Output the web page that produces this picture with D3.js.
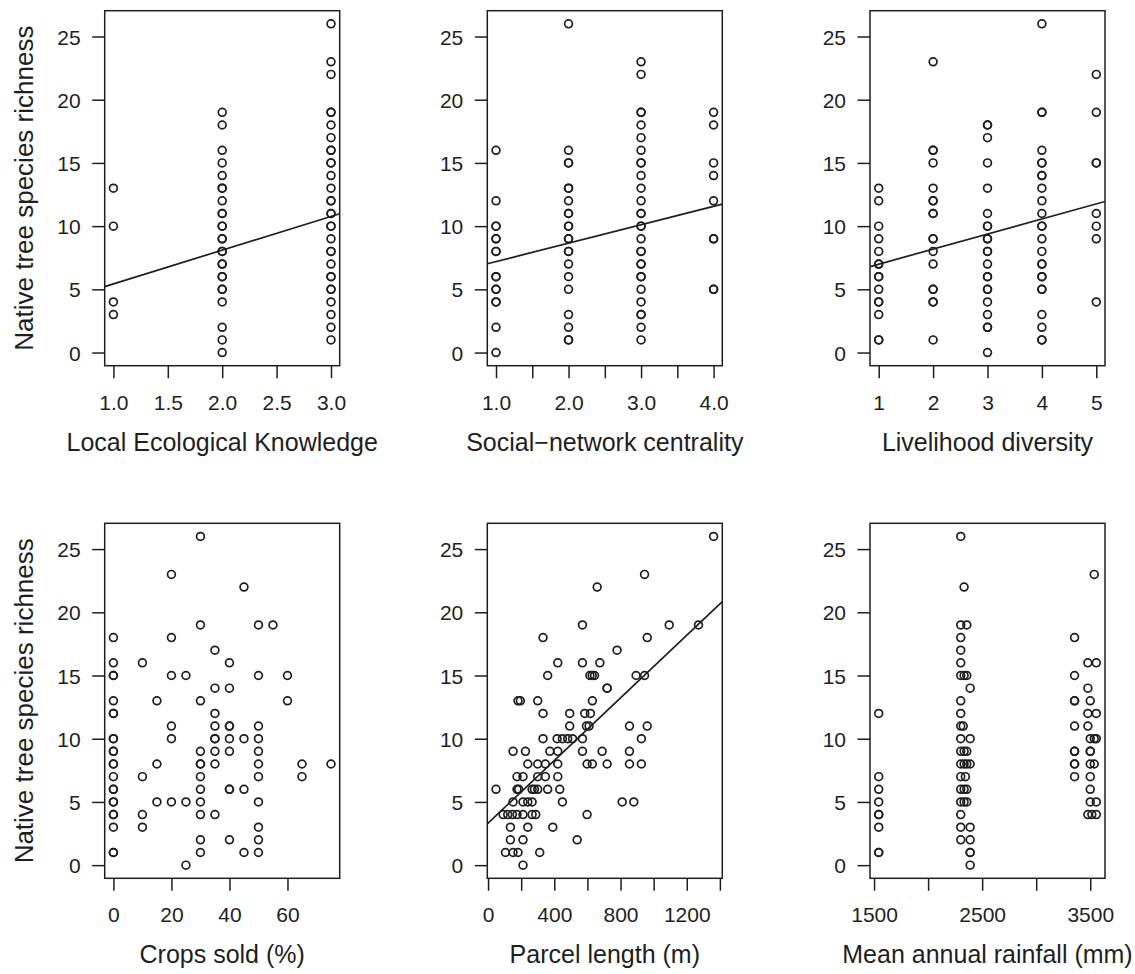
<!DOCTYPE html>
<html lang="en">
<meta charset="utf-8">
<style>
  body { margin: 0; background: #fff; font-family: 'Liberation Sans', Arial, sans-serif; }
  .box { fill: none; stroke: #1e1e1e; stroke-width: 1.5; }
  .pt { fill: none; stroke: #1e1e1e; stroke-width: 1.7; }
  .fit { stroke: #1e1e1e; stroke-width: 1.7; }
  .tick line { stroke: #1e1e1e; stroke-width: 1.5; }
  .tick text { fill: #1e1e1e; font-size: 21px; font-family: 'Liberation Sans', Arial, sans-serif; }
  .lab { fill: #1e1e1e; font-size: 25px; }
  .ylab { font-size: 26px; }
</style>
<body>
<div id="chart"></div>
<script src="https://cdn.jsdelivr.net/npm/d3@7/dist/d3.min.js"></script>
<script>

// ---- data ----
var yTitle = "Native tree species richness";
var yTicks = [0, 5, 10, 15, 20, 25];

// Local Ecological Knowledge: richness values at each level
var lekLevels = [1, 2, 3];
var lekY = [
  [13, 10, 4, 3],
  [19, 18, 16, 15, 14, 13, 13, 12, 11, 11, 10, 10, 9, 9, 8, 8, 7, 7, 6, 6, 5, 5, 4, 2, 1, 0],
  [26, 23, 22, 19, 19, 18, 17, 16, 16, 15, 15, 14, 13, 12, 12, 11, 11, 10, 10, 9, 8, 8, 7, 6, 6, 5, 5, 4, 3, 2, 1]
];

// Social-network centrality
var sncLevels = [1, 2, 3, 4];
var sncY = [
  [16, 12, 10, 10, 9, 9, 8, 8, 6, 6, 5, 5, 4, 4, 2, 0],
  [26, 16, 15, 15, 13, 13, 12, 11, 11, 10, 10, 9, 9, 8, 8, 7, 6, 5, 3, 2, 1, 1],
  [23, 22, 19, 19, 18, 17, 16, 15, 15, 14, 13, 12, 11, 11, 10, 10, 9, 8, 8, 7, 7, 6, 6, 5, 4, 3, 3, 2, 1],
  [19, 18, 15, 14, 12, 9, 9, 5, 5]
];

// Livelihood diversity
var ldLevels = [1, 2, 3, 4, 5];
var ldY = [
  [13, 12, 10, 9, 8, 7, 7, 6, 6, 5, 4, 4, 3, 1, 1],
  [23, 16, 16, 15, 13, 12, 12, 11, 11, 9, 9, 8, 7, 5, 5, 4, 4, 1],
  [18, 18, 17, 15, 13, 11, 10, 10, 9, 9, 8, 8, 7, 6, 6, 5, 5, 4, 3, 2, 2, 0],
  [26, 19, 19, 16, 15, 15, 14, 14, 13, 12, 11, 10, 10, 9, 8, 7, 7, 6, 6, 5, 5, 3, 2, 1, 1],
  [22, 19, 15, 15, 11, 10, 9, 4]
];

// Crops sold (%) vs richness
var cropPts = [[30,26],[20,23],[45,22],[30,19],[50,19],[55,19],[0,18],[20,18],[35,17],[0,16],[10,16],[40,16],
  [0,15],[0,15],[20,15],[25,15],[50,15],[60,15],[35,14],[40,14],[0,13],[15,13],[30,13],[60,13],[0,12],[0,12],[35,12],
  [20,11],[35,11],[40,11],[40,11],[50,11],[0,10],[0,10],[20,10],[35,10],[35,10],[40,10],[45,10],[50,10],
  [0,9],[0,9],[30,9],[35,9],[40,9],[50,9],[0,8],[0,8],[15,8],[30,8],[30,8],[35,8],[50,8],[65,8],[75,8],
  [0,7],[10,7],[30,7],[50,7],[65,7],[0,6],[0,6],[30,6],[40,6],[40,6],[45,6],[0,5],[0,5],[15,5],[20,5],[25,5],[30,5],[50,5],
  [0,4],[0,4],[10,4],[30,4],[35,4],[0,3],[10,3],[50,3],[30,2],[40,2],[50,2],[0,1],[0,1],[30,1],[45,1],[50,1],[25,0]];

// Parcel length (m) vs richness
var parcelPts = [[1362,26],[945,23],[659,22],[570,19],[1094,19],[1271,19],[332,18],[961,18],[779,17],[421,16],[570,16],[675,16],
  [360,15],[615,15],[629,15],[643,15],[894,15],[945,15],[719,14],[719,14],[181,13],[195,13],[300,13],[630,13],
  [332,12],[493,12],[584,12],[618,12],[493,11],[594,11],[610,11],[854,11],[961,11],
  [332,10],[417,10],[449,10],[481,10],[510,10],[570,10],[926,10],[151,9],[226,9],[373,9],[421,9],[570,9],[689,9],[854,9],
  [240,8],[300,8],[346,8],[421,8],[598,8],[630,8],[719,8],[854,8],[926,8],[175,7],[211,7],[300,7],[346,7],[421,7],
  [175,6],[185,6],[266,6],[280,6],[300,6],[360,6],[433,6],[48,6],[151,5],[211,5],[240,5],[266,5],[449,5],[810,5],[880,5],
  [91,4],[119,4],[147,4],[175,4],[211,4],[266,4],[288,4],[598,4],[135,3],[240,3],[391,3],[135,2],[211,2],[538,2],
  [105,1],[151,1],[181,1],[312,1],[211,0]];

// Mean annual rainfall (mm) vs richness
var rainPts = [[1543,12],[1543,7],[1543,6],[1543,5],[1543,4],[1543,4],[1543,3],[1543,1],[1543,1],
  [2302,26],[2333,22],[2302,19],[2358,19],[2302,18],[2302,17],[2302,16],[2302,15],[2333,15],[2358,15],[2389,14],
  [2302,13],[2302,12],[2302,11],[2325,11],[2302,10],[2389,10],[2302,9],[2333,9],[2358,9],
  [2302,8],[2333,8],[2358,8],[2389,8],[2302,7],[2345,7],[2302,6],[2333,6],[2358,6],[2302,5],[2333,5],[2358,5],
  [2302,4],[2302,3],[2389,3],[2302,2],[2389,2],[2389,1],[2389,1],[2389,0],
  [3355,18],[3355,15],[3355,13],[3355,13],[3355,11],[3355,9],[3355,9],[3355,8],[3355,8],[3355,7],
  [3537,23],[3478,16],[3556,16],[3478,14],[3500,13],[3478,12],[3556,12],[3478,11],[3500,10],[3537,10],[3556,10],
  [3500,9],[3500,9],[3500,8],[3537,8],[3500,7],[3500,6],[3500,5],[3556,5],[3478,4],[3515,4],[3556,4]];

// x axis titles, ticks and tick labels
var xTitles = ["Local Ecological Knowledge", "Social\u2212network centrality", "Livelihood diversity",
               "Crops sold (%)", "Parcel length (m)", "Mean annual rainfall (mm)"];
var xTickVals = [
  [1, 1.5, 2, 2.5, 3],
  [1, 1.5, 2, 2.5, 3, 3.5, 4],
  [1, 2, 3, 4, 5],
  [0, 20, 40, 60],
  [0, 200, 400, 600, 800, 1000, 1200, 1400],
  [1500, 2000, 2500, 3000, 3500]
];
var xTickLabels = [
  ["1.0", "1.5", "2.0", "2.5", "3.0"],
  ["1.0", "", "2.0", "", "3.0", "", "4.0"],
  ["1", "2", "3", "4", "5"],
  ["0", "20", "40", "60"],
  ["0", "", "400", "", "800", "", "1200", ""],
  ["1500", "", "2500", "", "3500"]
];

// fitted lines (intercept, slope); null = no line
var fitIntercept = [2.76, 5.74, 5.80, null, 3.32, null];
var fitSlope = [2.67, 1.457, 1.192, null, 0.01239, null];

// ---- layout ----
var width = 1135, height = 974;
var plotW = 235, plotH = 355;
var colX = [104.7, 487.3, 870];
var rowY = [10.7, 523.3];

function expand(levels, ys) {
  var out = [];
  levels.forEach(function(lv, i) {
    ys[i].forEach(function(v) { out.push([lv, v]); });
  });
  return out;
}

var panels = [
  expand(lekLevels, lekY),
  expand(sncLevels, sncY),
  expand(ldLevels, ldY),
  cropPts,
  parcelPts,
  rainPts
];

// R-style 4% padded range
function rRange(ext) {
  var r = ext[1] - ext[0];
  return [ext[0] - 0.04 * r, ext[1] + 0.04 * r];
}

var svg = d3.select("#chart").append("svg")
    .attr("width", width)
    .attr("height", height);

svg.append("rect").attr("width", width).attr("height", height).attr("fill", "#fff");

var y = d3.scaleLinear().domain(rRange([0, 26])).range([plotH, 0]);

panels.forEach(function(pts, i) {
  var row = Math.floor(i / 3), col = i % 3;
  var g = svg.append("g").attr("transform", "translate(" + colX[col] + "," + rowY[row] + ")");

  var x = d3.scaleLinear()
      .domain(rRange(d3.extent(pts, function(d) { return d[0]; })))
      .range([0, plotW]);

  // clip for the regression line
  g.append("clipPath").attr("id", "clip" + i)
    .append("rect").attr("width", plotW).attr("height", plotH);

  // y axis
  var yAxis = g.append("g")
      .call(d3.axisLeft(y).tickValues(yTicks).tickSize(12.5).tickSizeOuter(0));
  yAxis.select(".domain").remove();
  yAxis.selectAll("text").attr("x", -24).attr("dy", "0.36em");

  // x axis
  var labs = xTickLabels[i];
  var xAxis = g.append("g")
      .attr("transform", "translate(0," + plotH + ")")
      .call(d3.axisBottom(x).tickValues(xTickVals[i]).tickSize(12.5).tickSizeOuter(0)
        .tickFormat(function(d, k) { return labs[k]; }));
  xAxis.select(".domain").remove();
  xAxis.selectAll("text").attr("y", 44).attr("dy", 0);
  xAxis.attr("font-size", null).attr("font-family", null);
  yAxis.attr("font-size", null).attr("font-family", null);

  // points
  g.append("g").selectAll("circle")
      .data(pts)
    .enter().append("circle")
      .attr("class", "pt")
      .attr("cx", function(d) { return x(d[0]); })
      .attr("cy", function(d) { return y(d[1]); })
      .attr("r", 3.9);

  // fitted line
  if (fitIntercept[i] !== null) {
    var dom = x.domain();
    g.append("line")
      .attr("class", "fit")
      .attr("clip-path", "url(#clip" + i + ")")
      .attr("x1", x(dom[0])).attr("y1", y(fitIntercept[i] + fitSlope[i] * dom[0]))
      .attr("x2", x(dom[1])).attr("y2", y(fitIntercept[i] + fitSlope[i] * dom[1]));
  }

  // frame
  g.append("rect").attr("class", "box").attr("width", plotW).attr("height", plotH);

  // x title
  g.append("text").attr("class", "lab")
    .attr("x", plotW / 2).attr("y", plotH + 85)
    .attr("text-anchor", "middle")
    .text(xTitles[i]);

  // y title on left column only
  if (col === 0) {
    g.append("text").attr("class", "lab ylab")
      .attr("text-anchor", "middle")
      .attr("transform", "translate(-71.4," + plotH / 2 + ") rotate(-90)")
      .text(yTitle);
  }
});

</script>
</body>
</html>
